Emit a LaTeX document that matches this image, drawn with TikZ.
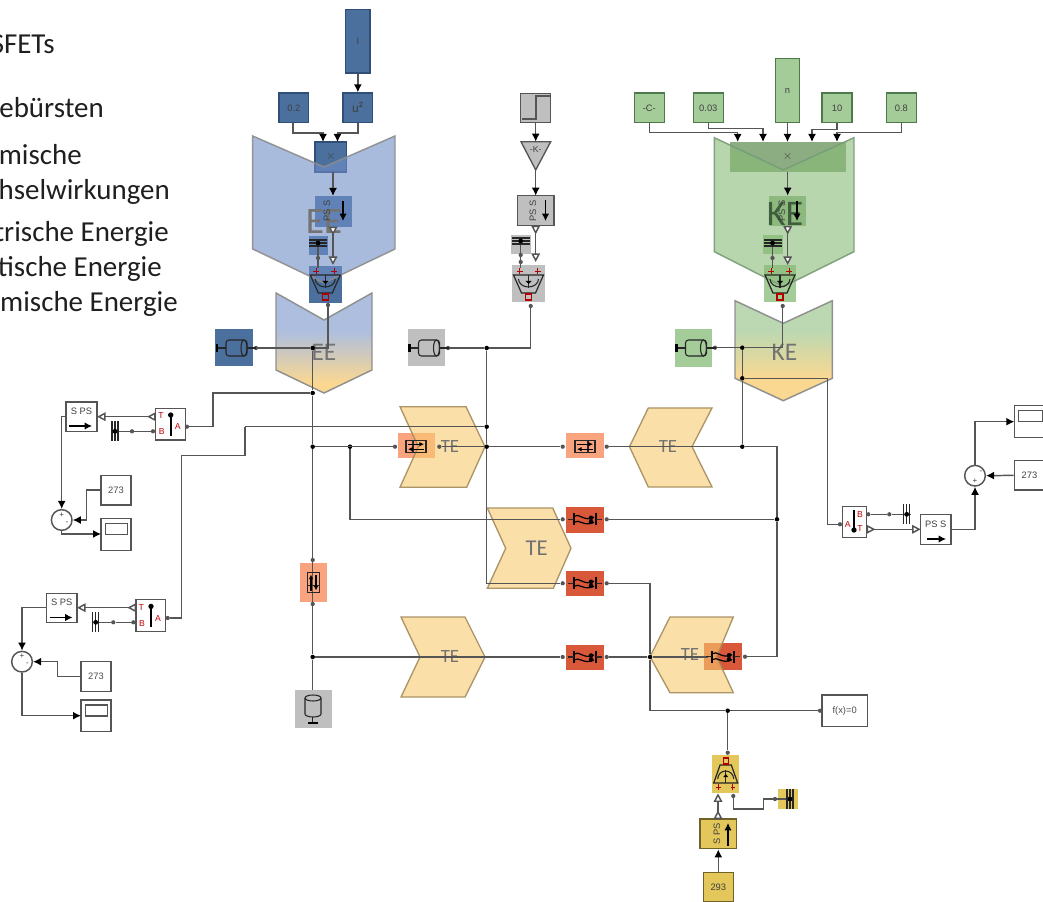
\documentclass[tikz,border=0pt]{standalone}
\usepackage{fontspec}
\setmainfont{Carlito}
\newfontfamily\lib{Liberation Sans}
\usetikzlibrary{arrows.meta}
\definecolor{bluef}{HTML}{4C709E}\definecolor{blueed}{HTML}{2F4F78}
\definecolor{greenf}{HTML}{A4CC98}\definecolor{greened}{HTML}{4C7A4C}
\definecolor{grayf}{HTML}{BFBFBF}\definecolor{grayed}{HTML}{555555}
\definecolor{yellf}{HTML}{E3C75A}\definecolor{yelled}{HTML}{6E6228}
\definecolor{orf}{HTML}{F9A47E}\definecolor{redf}{HTML}{D9583A}
\definecolor{wirec}{HTML}{555555}
\definecolor{eeb}{HTML}{A9BBDD}\definecolor{keg}{HTML}{B8D6AE}\definecolor{teo}{HTML}{FBD68C}
\definecolor{eeov}{HTML}{708EC6}\definecolor{keov}{HTML}{89BB78}\definecolor{teov}{HTML}{F8CA6E}
\pgfdeclareverticalshading{eeshade}{100bp}{color(0bp)=(teo); color(30bp)=(teo); color(56bp)=(eeb); color(100bp)=(eeb)}
\pgfdeclareverticalshading{keshade}{100bp}{color(0bp)=(teo); color(36bp)=(teo); color(60bp)=(keg); color(100bp)=(keg)}
\tikzset{
  wire/.style={draw=wirec,line width=1.1pt},
  arr/.style={wire,-{Latex[black,length=6pt,width=6pt]}},
  hol/.style={wire,{Triangle[open,reversed,fill=white,length=6.5pt,width=6.5pt]}-{Triangle[open,fill=white,length=6.5pt,width=6.5pt]}},
  port/.style={circle,fill=wirec,inner sep=0pt,minimum size=3.2pt},
  dotn/.style={circle,fill=black,inner sep=0pt,minimum size=3.4pt},
  box/.style={draw=wirec,line width=1.1pt,fill=white,inner sep=0pt,font=\lib\fontsize{7}{8}\selectfont,text=black!70},
  bbox/.style={draw=blueed,line width=1pt,fill=bluef,inner sep=0pt,font=\lib\fontsize{7}{8}\selectfont,text=black!75},
  gbox/.style={draw=greened,line width=1pt,fill=greenf,inner sep=0pt,font=\lib\fontsize{7}{8}\selectfont,text=black!75},
  ybox/.style={draw=yelled,line width=1pt,fill=yellf,inner sep=0pt,font=\lib\fontsize{7}{8}\selectfont,text=black!75},
  sbox/.style={draw=grayed,line width=1pt,fill=grayf,inner sep=0pt,font=\lib\fontsize{7}{8}\selectfont,text=black!70},
  pad/.style={draw=none,fill=#1,inner sep=0pt},
  eepoly/.style={draw=black!45,draw opacity=.9,line width=1.1pt,fill=eeov,fill opacity=.6},
  kepoly/.style={draw=greened!75,draw opacity=.9,line width=1.1pt,fill=keov,fill opacity=.6},
  tepoly/.style={draw=black!35!teo,draw opacity=.9,line width=1pt,fill=teov,fill opacity=.6},
  bigt/.style={text=black!55,inner sep=0pt},
  side/.style={anchor=base east,inner sep=0pt,text=black!88,font=\fontsize{21.7}{23}\selectfont},
  rl/.style={text=red!75!black,inner sep=0pt,font=\lib\fontsize{6.5}{7}\selectfont},
  ic/.style={draw=black!85,line width=.8pt},
  tinyt/.style={inner sep=0pt,text=black!75,font=\lib\fontsize{4.5}{5}\selectfont},
}
\newcommand{\blk}[7]{\pgfmathsetmacro\bx{(#3+#5)/2}\pgfmathsetmacro\by{(#4+#6)/2}\pgfmathsetmacro\bw{(#5-#3)*0.75}\pgfmathsetmacro\bh{(#6-#4)*0.75}\node[#1,minimum width=\bw pt,minimum height=\bh pt] (#2) at (\bx,\by) {#7};}
\newcommand{\iconMotor}[2]{\begin{scope}[shift={(#1,#2)}]
  \draw[ic,rounded corners=2.2pt] (-8,-8) rectangle (13,8);
  \draw[ic] (10,0) ellipse [x radius=3,y radius=8];
  \draw[ic] (-8,0)--(-17,0);
  \draw[black,line width=1.8pt] (-17,-4)--(-17,4);
  \draw[ic] (13,0)--(22,0);
\end{scope}}
\newcommand{\iconConv}[4]{\begin{scope}[shift={(#1,#2)},yscale=#3,xscale=#4]
  \draw[ic,line width=.9pt] (-15,-9)--(15,-9)--(7,9)--(-7,9)--cycle;
  \draw[ic] (-10,-5) arc[start angle=180,end angle=360,x radius=10,y radius=-8];
  \draw[ic] (0,-9)--(0,4);
  \fill[black] (0,0)--(-3,-3)--(3,-3)--cycle;
  \draw[red!70!black,line width=.7pt] (-9,-16)--(-9,-10) (-12,-13)--(-6,-13) (9,-16)--(9,-10) (6,-13)--(12,-13);
  \draw[red!70!black,line width=.8pt] (-3,10) rectangle (3,16);
\end{scope}}
\newcommand{\iconBarsH}[2]{\begin{scope}[shift={(#1,#2)}]
  \draw[ic,line width=.8pt] (-9,-3)--(9,-3) (-9,0)--(9,0) (-9,3)--(9,3);
  \fill[black] (0,0) circle (1.8pt);
\end{scope}}
\newcommand{\iconBarsV}[2]{\begin{scope}[shift={(#1,#2)}]
  \draw[ic,line width=.8pt] (-3,-10)--(-3,10) (0,-10)--(0,10) (3,-10)--(3,10);
  \fill[black] (0,0) circle (1.8pt);
\end{scope}}
\newcommand{\iconRes}[3]{\begin{scope}[shift={(#1,#2)},rotate=#3]
  \draw[ic,line width=.8pt] (-10,-6) rectangle (10,6);
  \draw[ic] (-3,-6)--(-3,6);
  \draw[black,line width=.8pt,-{Latex[length=3.5pt,width=3.5pt]}] (-8,-2.5)--(8,-2.5);
  \draw[black,line width=.8pt,{Latex[length=3.5pt,width=3.5pt]}-] (-8,2.5)--(8,2.5);
\end{scope}}
\newcommand{\iconSq}[2]{\begin{scope}[shift={(#1,#2)}]
  \draw[black,line width=1.2pt] (-11,-6)--(-11,6) (11,-6)--(11,6);
  \draw[ic] (-17,0)--(-11,0) (11,0)--(17,0);
  \draw[black,line width=.9pt] (-11,-3) .. controls (-6,-7) and (-1,3) .. (9,-2);
  \draw[black,line width=.9pt] (-11,3) .. controls (-6,-1) and (-1,8) .. (9,3);
  \fill[black] (6,-1.5) circle (1.7pt) (6,2.5) circle (1.7pt);
\end{scope}}
\newcommand{\sensL}[3]{\blk{box}{#1}{#2}{#3}{#2+29.6}{#3+31.7}{}
  \node[rl] (#1T) at (#2+5.3,#3+7.5) {T};
  \node[rl] (#1B) at (#2+6,#3+23.4) {B};
  \node[rl] (#1A) at (#2+22,#3+18.4) {A};
  \draw[black,line width=1.2pt] (#2+15,#3+6.7)--(#2+15,#3+27.7);
  \fill[black] (#2+15,#3+6.7) circle (2pt);}
\newcommand{\scopebox}[5]{\blk{box}{#1}{#2}{#3}{#4}{#5}{}
  \draw[draw=wirec,line width=.9pt] (#2+4.5,#3+5) rectangle (#4-3.5,#3+16);}
\newcommand{\sumn}[5]{\node[draw=wirec,line width=1.1pt,fill=white,circle,inner sep=0pt,minimum size=15.5pt] (#1) at (#2,#3) {};
  \node[tinyt,font=\lib\fontsize{6}{6}\selectfont] (#1p) at (#4) {+};
  \node[tinyt,font=\lib\fontsize{6}{6}\selectfont] (#1m) at (#5) {-};}
\begin{document}
\begin{tikzpicture}[x=0.75pt,y=-0.75pt]
\path[use as bounding box,clip] (0,0) rectangle (1043,902);
\fill[white] (0,0) rectangle (1043,902);

% side text
\node[side] (t1) at (55,54) {SFETs};
\node[side] (t2) at (104,118) {ebürsten};
\node[side] (t3) at (82,165) {mische};
\node[side] (t4) at (170,200) {hselwirkungen};
\node[side] (t5) at (169,241.7) {trische Energie};
\node[side] (t6) at (162,276.7) {tische Energie};
\node[side] (t7) at (178,311.7) {mische Energie};

% ===== blocks under the translucent shapes
% blue column
\blk{bbox}{bI}{345.7}{9.3}{370}{73}{I}
\blk{bbox}{bA}{279}{93}{308.7}{122.7}{0.2}
\blk{bbox}{bU}{343}{93}{372.7}{122.7}{\fontsize{9}{9}\selectfont u$^{\mathbf 2}$}
\blk{bbox}{bX}{315}{142}{346.7}{172}{\fontsize{9}{9}\selectfont $\times$}
\blk{pad=bluef}{bP}{315}{196}{351.7}{226.7}{}
\blk{pad=bluef}{bS}{309}{236}{327.7}{255}{}
\blk{pad=bluef}{bC}{309}{265.7}{341.7}{302.7}{}
\blk{pad=bluef}{bM}{214.7}{329}{253}{366}{}
% gray column
\blk{pad=grayf}{gM}{408}{329}{445}{366}{}
\blk{sbox}{gT}{520.7}{93.3}{550.7}{122.7}{}
\fill[grayf,draw=grayed,line width=1pt] (521,141.7)--(550.7,141.7)--(535.7,170)--cycle;
\node[tinyt,font=\lib\fontsize{6.5}{7}\selectfont] (gGt) at (535.7,150) {-K-};
\blk{sbox}{gP}{517.7}{195.7}{554}{225.7}{}
\blk{pad=grayf}{gS}{511}{235}{530.7}{254}{}
\blk{pad=grayf}{gC}{512}{265}{545}{302}{}
% green column
\blk{gbox}{kC}{634.3}{93}{664.3}{122.7}{-C-}
\blk{gbox}{kA}{693.3}{93}{723.3}{122.7}{0.03}
\blk{gbox}{kN}{775.3}{58.7}{799.7}{122.7}{n}
\blk{gbox}{kT}{822}{93}{852}{122.7}{10}
\blk{gbox}{kE}{886.3}{93}{916.3}{122.7}{0.8}
\blk{pad=greenf!85!black}{kX}{730}{142.3}{845.7}{172}{}
\blk{pad=greenf!90!black}{kP}{769.3}{195.7}{806}{226}{}
\blk{pad=greenf}{kS}{763.3}{235.3}{782.7}{254}{}
\blk{pad=greenf}{kCv}{763.7}{265}{796}{302.3}{}
\blk{pad=greenf}{kM}{674.7}{329.3}{712.3}{366.7}{}
% orange and red
\blk{pad=orf}{o1}{397.7}{433.3}{435}{458.3}{}
\blk{pad=orf}{o2}{565.7}{433.3}{604}{458.3}{}
\blk{pad=orf}{o3}{300}{563}{327}{602}{}
\blk{pad=redf}{r1}{565.7}{506.7}{604}{532.7}{}
\blk{pad=redf}{r2}{565.7}{570.7}{604}{596}{}
\blk{pad=redf}{r3}{565.7}{644.7}{604}{670}{}
\blk{pad=redf}{r4}{704.3}{643.3}{742.3}{670}{}
% ground and yellow
\blk{pad=grayf}{gR}{295}{690}{332}{728}{}
\blk{pad=yellf}{yC}{712.3}{755}{739}{793.3}{}
\blk{pad=yellf}{yS}{777.7}{789.3}{798.3}{809.3}{}
\blk{ybox}{yP}{700}{819}{736.7}{848.7}{}
\blk{ybox}{yK}{703.3}{872.7}{733.3}{902}{293}

% ===== translucent shapes
\path[eepoly] (252.7,136)--(324,167)--(395,136)--(395,249)--(324,283)--(252.7,249)--cycle;
\path[draw=black!45,line width=1.1pt,shading=eeshade,opacity=.95] (276,293)--(324,320)--(372,293)--(372,370)--(324,393)--(276,370)--cycle;
\path[kepoly] (714.3,137.7)--(783.3,170)--(854,137.7)--(854,251.7)--(783.3,286.7)--(714.3,251.7)--cycle;
\path[draw=black!45,line width=1.1pt,shading=keshade,opacity=.95] (735,300.7)--(783.3,323.3)--(832.3,300.7)--(832.3,378.3)--(783.3,400.7)--(735,378.3)--cycle;
\path[tepoly] (400,406.7)--(466,406.7)--(485,446.7)--(466.7,487.3)--(400,487.3)--(418.3,446.7)--cycle;
\path[tepoly] (487.3,508)--(552.7,508)--(571,548.3)--(553.3,588.3)--(487.3,588.3)--(505.7,548.3)--cycle;
\path[tepoly] (629.5,446.7)--(648.3,408)--(712,408)--(692,446.7)--(712,487)--(648.3,487)--cycle;
\path[tepoly] (401,617)--(465,617)--(485,657)--(465,697)--(401,697)--(420,657)--cycle;
\path[tepoly] (650,656.7)--(670,617)--(733.3,617)--(716.7,656.7)--(733.3,692.7)--(670,692.7)--cycle;

% big labels
\node[bigt,font=\fontsize{28}{30}\selectfont] (ee1) at (324,222) {EE};
\node[bigt,font=\fontsize{19}{20}\selectfont] (ee2) at (324,352) {EE};
\definecolor{ket}{HTML}{3E5E3E}
\node[bigt,text=ket,font=\fontsize{27}{30}\selectfont] (ke1) at (785,214) {KE};
\node[bigt,font=\fontsize{19}{20}\selectfont] (ke2) at (784.5,352) {KE};
\node[bigt,font=\fontsize{14}{15}\selectfont] (te1) at (450,447) {TE};
\node[bigt,font=\fontsize{17}{18}\selectfont] (te2) at (536.7,548) {TE};
\node[bigt,font=\fontsize{14}{15}\selectfont] (te3) at (668,447) {TE};
\node[bigt,font=\fontsize{14}{15}\selectfont] (te4) at (450,657) {TE};
\node[bigt,font=\fontsize{14}{15}\selectfont] (te5) at (690,655) {TE};

% ===== left and right measurement blocks
\sensL{s1}{155.7}{408.3}
\sensL{s2}{136}{599.7}
\blk{box}{sp1}{66}{402}{97}{431.7}{}
\blk{box}{sp2}{46.3}{593.3}{77}{622.7}{}
\node[tinyt,font=\lib\fontsize{7}{7}\selectfont] (sp1t) at (81.5,411) {S PS};
\node[tinyt,font=\lib\fontsize{7}{7}\selectfont] (sp2t) at (61.7,602.5) {S PS};
\blk{box}{k1}{101}{475.3}{131}{505}{273}
\blk{box}{k2}{81}{661.7}{111}{691.7}{273}
\scopebox{sc1}{101}{518.3}{131}{550.7}
\scopebox{sc2}{81}{700}{111}{731.7}
\sumn{su1}{61.7}{520}{61.7,515}{67,523}
\sumn{su2}{22}{661.7}{22,656.5}{27.5,664}
% right
\blk{box}{s3}{842.3}{506.3}{866.7}{537.7}{}
\node[rl] (s3B) at (860,514.3) {B};
\node[rl] (s3T) at (860,528.3) {T};
\node[rl] (s3A) at (847.7,524.3) {A};
\draw[black,line width=1.2pt] (854,510)--(854,530);
\fill[black] (854,530) circle (2pt);
\blk{box}{ps3}{920.7}{514.3}{951}{544.3}{}
\node[tinyt,font=\lib\fontsize{7}{7}\selectfont] (ps3t) at (935.8,524) {PS S};
\blk{box}{k3}{1014.3}{460.7}{1046}{490}{}
\node[tinyt,font=\lib\fontsize{7}{8}\selectfont] (k3t) at (1029.5,475.5) {273};
\scopebox{sc3}{1014.3}{405.7}{1046}{437.7}
\sumn{su3}{975}{475.7}{975,481}{981,472}
\blk{box}{fx}{822}{695}{867.3}{726.7}{f(x)=0}

% ===== named points
\coordinate (a1) at (293,122.7); \coordinate (a2) at (323,142);
\coordinate (u1) at (358,122.7); \coordinate (u2) at (337.5,142);
\coordinate (c1) at (649.3,122.7); \coordinate (c2) at (737.7,142);
\coordinate (d1) at (708.3,122.7); \coordinate (d2) at (763,142);
\coordinate (e1) at (837,122.7); \coordinate (e2) at (812,142);
\coordinate (f1) at (901.3,122.7); \coordinate (f2) at (837,142);
\node[port] (pEEc) at (328,305) {};
\node[port] (pEEm) at (256,348) {};
\node[dotn] (jEE) at (312.7,348) {};
\node[dotn] (j393) at (312.7,393) {};
\node[dotn] (j446) at (312.7,446.7) {};
\node[dotn] (j350) at (350,446.7) {};
\node[dotn] (j657) at (312.7,657) {};
\node[port] (pGm) at (448,348) {};
\node[dotn] (j487) at (486.7,348) {};
\node[port] (pGc) at (530.7,306) {};
\node[dotn] (j427) at (486.7,426.7) {};
\node[dotn] (j447) at (486.7,446.7) {};
\node[port] (pKc) at (782.7,306) {};
\node[port] (pKm) at (715,347.7) {};
\node[dotn] (jK) at (742.3,347.7) {};
\node[dotn] (jK2) at (742.3,378.3) {};
\coordinate (jK3) at (827.3,378.3);
\node[dotn] (j742) at (742.3,446.7) {};
\node[dotn] (j777) at (777,519.3) {};
\coordinate (c777) at (777,446.7);
\coordinate (c777b) at (777,656.7);
\node[port] (po1l) at (395,446.7) {}; \node[port] (po1r) at (439.3,446.7) {};
\node[port] (po2l) at (562.7,446.7) {}; \node[port] (po2r) at (606.7,446.7) {};
\node[port] (pr1l) at (562.7,519.3) {}; \node[port] (pr1r) at (606.7,519.3) {};
\node[port] (pr2l) at (562.7,583.3) {}; \node[port] (pr2r) at (606.7,583.3) {};
\node[port] (pr3l) at (562.7,657) {}; \node[port] (pr3r) at (606.7,657) {};
\node[dotn] (j650) at (650,657) {};
\node[port] (pr4r) at (745,656.7) {};
\coordinate (c650) at (650,583.3);
\coordinate (c650b) at (650,710.7);
\node[dotn] (j728) at (727.7,710.7) {};
\node[port] (pfx) at (820,710.7) {};
\node[port] (pyc) at (727.7,752.7) {};
\node[port] (pyc2) at (733.3,796) {};
\node[port] (pys) at (775,799) {};
\coordinate (cys) at (793.3,799);
\node[port] (po3t) at (312.7,560) {}; \node[port] (po3b) at (312.7,604) {};
\coordinate (cG) at (312.7,690);
% left sensors
\node[port] (ps1a) at (187,426.7) {};
\coordinate (c245) at (245,426.7);
\coordinate (c245b) at (245,455.4);
\coordinate (c181) at (181.7,455.4);
\node[port] (ps1b) at (153,431.3) {};
\node[port] (ps1d) at (132,431.3) {};
\coordinate (g1e) at (112,431.3);
\node[port] (ps2a) at (167.7,618) {};
\node[port] (ps2b) at (133.3,622.3) {};
\node[port] (ps2d) at (113.3,622.3) {};
\coordinate (g2e) at (92,622.3);
\node[port] (ps3a) at (840,524.3) {};
\node[port] (ps3b) at (868.3,514.3) {};
\node[port] (ps3d) at (889.3,514.3) {};
\coordinate (g3e) at (911,514.3);
% sensor signal points
\coordinate (t1a) at (155.7,416.7); \coordinate (t1b) at (97,416.7);
\coordinate (t2a) at (136,607.7); \coordinate (t2b) at (77,607.7);
\coordinate (t3a) at (866.7,529.3); \coordinate (t3b) at (920.7,529.3);
\coordinate (sp1o) at (66,416.7); \coordinate (sp2o) at (46.3,607.7);
\coordinate (ps3o) at (951,529.3);
\coordinate (k1p) at (101,490); \coordinate (k2p) at (81,676.7);
\coordinate (sc1p) at (101,534); \coordinate (sc2p) at (81,715.7); \coordinate (sc3p) at (1014.3,421.7);

% ===== connectors
\draw[arr] (bI.south)--(bU.north);
\draw[arr] (a1)--++(0,10.3)-|(a2);
\draw[arr] (u1)--++(0,10.3)-|(u2);
\draw[arr] (333,172)--(333,196);
\draw[hol] (333,226.7)--(333,265);
\draw[wire] (318,241)--(318,268);
\node[port] (bs1) at (318,258) {};
\draw[wire] (pEEm)--(jEE)--(328,348)--(pEEc);
\draw[wire] (jEE)--(j393)--(j446)--(j657)--(cG);
\draw[wire] (j393)-|(213,426.7)--(ps1a);
\draw[wire] (c245)--(j427);
\draw[wire] (c245)--(c245b)--(c181)|-(ps2a);
\draw[wire] (j446)--(po1l) (po1r)--(j447)--(po2l) (po2r)--(j742)--(c777)--(j777)--(c777b)--(pr4r);
\draw[wire] (j350)--(350,519.3)--(pr1l) (pr1r)--(j777);
\draw[wire] (pGm)--(j487)--(530.7,348)--(pGc);
\draw[wire] (j487)--(j427)--(j447)--(486.7,583.3)--(pr2l);
\draw[wire] (pr2r)--(c650)--(j650)--(c650b)--(j728)--(pfx);
\draw[wire] (j657)--(pr3l) (pr3r)--(j650)--(708,657);
\draw[wire] (j728)--(pyc);
\draw[wire] (pyc2)--(733.3,809)--(763.3,809)--(763.3,799)--(pys)--(cys);
\draw[hol] (718,819)--(718,793.3);
\draw[arr] (yK.north)--(yK.north|-yP.south);
% gray
\draw[arr] (gT.south)--(535.7,141.7);
\draw[arr] (535.7,170)--(535.7,195.7);
\draw[hol] (535.7,225.7)--(535.7,262);
\draw[wire] (520.7,241)--(520.7,268);
\node[port] (gs1) at (520.7,255) {};
\node[port] (gs2) at (520.7,262) {};
% green
\draw[arr] (c1)--++(0,10)-|(c2);
\draw[arr] (d1)--++(0,5.6)-|(d2);
\draw[arr] (kN.south)--(kN.south|-c2);
\draw[arr] (e1)--++(0,6.6)-|(e2);
\draw[arr] (f1)--++(0,10)-|(f2);
\draw[arr] (787.7,172)--(787.7,195.7);
\draw[hol] (787.7,226)--(787.7,265);
\draw[wire] (772.5,241)--(772.5,268);
\node[port] (ks1) at (772.5,258) {};
\draw[wire] (pKm)--(jK)--(782.7,347.7)--(pKc);
\draw[wire] (jK)--(jK2)--(j742);
\draw[wire] (jK2)--(jK3)--(827.3,524.3)--(ps3a);
% sensors
\draw[hol] (t1a)--(t1b);
\draw[hol] (t2a)--(t2b);
\draw[hol] (t3a)--(t3b);
\draw[wire] (ps1b)--(ps1d)--(g1e);
\draw[wire] (ps2b)--(ps2d)--(g2e);
\draw[wire] (ps3b)--(ps3d)--(g3e);
\draw[arr] (sp1o)-|(su1.north);
\draw[arr] (k1p)-|(86.7,505)|-(su1.east);
\draw[arr] (su1.south)|-(sc1p);
\draw[arr] (sp2o)-|(su2.north);
\draw[arr] (k2p)-|(57.7,670)|-(su2.east);
\draw[arr] (su2.south)|-(sc2p);
\draw[arr] (ps3o)-|(su3.south);
\draw[arr] (k3.west)--(su3.east);
\draw[arr] (su3.north)|-(sc3p);

% ===== block icons
\iconConv{325.3}{284}{1}{1}
\iconConv{528.5}{284}{1}{1}
\iconConv{780}{284}{1}{1}
\iconConv{725.7}{774}{-1}{.8}
\iconMotor{234}{348}
\iconMotor{426.5}{348}
\iconMotor{693.5}{348}
\iconBarsH{318}{243}
\iconBarsH{520.7}{241}
\iconBarsH{772.5}{243}
\iconBarsV{115}{431.3}
\iconBarsV{95.7}{622.3}
\iconBarsV{906.7}{514.3}
\iconBarsV{790}{799}
\iconRes{416}{446.7}{0}
\iconRes{585}{446.7}{180}
\iconRes{313.5}{582.5}{90}
\iconSq{585}{519.3}
\iconSq{585}{583.3}
\iconSq{585}{657}
\iconSq{723}{656.7}
% ground cylinder
\draw[ic] (305,698)--(305,714) arc[start angle=180,end angle=360,x radius=8,y radius=-3]--(321,698);
\draw[ic] (313,698) ellipse [x radius=8,y radius=3];
\draw[ic] (312.7,717)--(312.7,722);
\draw[black,line width=1.6pt] (308,723)--(318,723);
% PS converters: text and arrow
\node[tinyt,rotate=90,font=\lib\fontsize{7}{7}\selectfont] (pst1) at (327,211) {PS S};
\node[tinyt,rotate=90,font=\lib\fontsize{7}{7}\selectfont] (pst2) at (533,211) {PS S};
\node[tinyt,rotate=90,font=\lib\fontsize{7}{7}\selectfont] (pst3) at (782,211) {PS S};
\node[tinyt,rotate=90,font=\lib\fontsize{7}{7}\selectfont] (pst4) at (717,834) {S PS};
\foreach \ax/\ay/\bx/\by in {343/201/343/221,545.5/200/545.5/221,797/201/797/221,728/846/728/823,69/426/92/426,49.5/617.5/72.5/617.5,927/539/946/539}
  \draw[black,line width=.8pt,-{Latex[length=5.5pt,width=5.5pt]}] (\ax,\ay)--(\bx,\by);
% step icon
\draw[draw=grayed,line width=1.2pt] (522,119)--(535.7,119)--(535.7,96)--(550,96);
% label on product
\node[tinyt,font=\lib\fontsize{9}{9}\selectfont] (kXt) at (787.7,157) {$\times$};
\end{tikzpicture}
\end{document}
